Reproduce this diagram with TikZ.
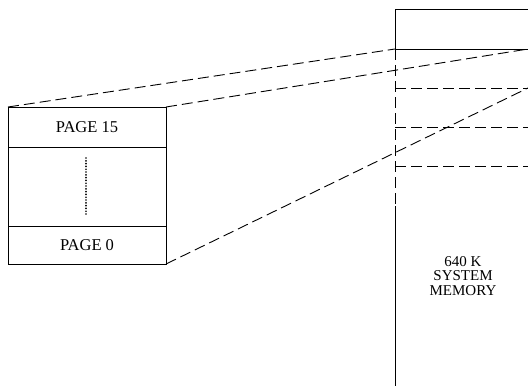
\documentclass[tikz,border=0pt]{standalone}
\usepackage{fontspec}
\setmainfont{Liberation Serif}
\usetikzlibrary{positioning, calc}

\begin{document}
\begin{tikzpicture}[x=1pt, y=-1pt, line width=0.9pt]
    \tikzstyle{pagebox} = [rectangle, draw, minimum width=158pt, minimum height=40pt, inner sep=0pt, outer sep=0pt, font=\fontsize{16.5}{16.5}\selectfont]
    \tikzstyle{link} = [dash pattern=on 11pt off 5pt]
    \tikzstyle{memtext} = [align=center, font=\fontsize{15}{14.5}\selectfont]
    \useasboundingbox (0,0) rectangle (528,386);

    % expanded memory pages
    \node [pagebox, anchor=north west] (page15) at (8,107) {PAGE 15};
    \node [pagebox, minimum height=79pt, below=0pt of page15] (pagemid) {};
    \node [pagebox, minimum height=38pt, below=0pt of pagemid] (page0) {PAGE 0};
    \draw [line width=1.9pt, dash pattern=on 0pt off 2.8pt, line cap=round] ($(pagemid.north)+(-1,11)$) -- ($(pagemid.south)+(-1,-12)$);

    % system memory column
    \coordinate (memtop) at (395,9);
    \coordinate (frametl) at (395,49);
    \coordinate (frametr) at (528,49);
    \coordinate (framebr) at (528,88);
    \coordinate (memsolid) at (395,206);
    \coordinate (membot) at (395,386);
    \draw (528,9) -- (memtop) -- (frametl) -- (frametr);
    \draw [link] (frametl) -- (memsolid);
    \draw (memsolid) -- (membot);
    \draw [link] (395,88) -- (framebr);
    \draw [link] (395,127) -- (528,127);
    \draw [link] (395,166) -- (528,166);
    \node [memtext] (memlabel) at (463,276) {640 K\\SYSTEM\\MEMORY};

    % mapping lines
    \draw [link] (page15.north west) -- (frametl);
    \draw [link] (page15.north east) -- (frametr);
    \draw [link] (page0.south east) -- (framebr);
\end{tikzpicture}
\end{document}
